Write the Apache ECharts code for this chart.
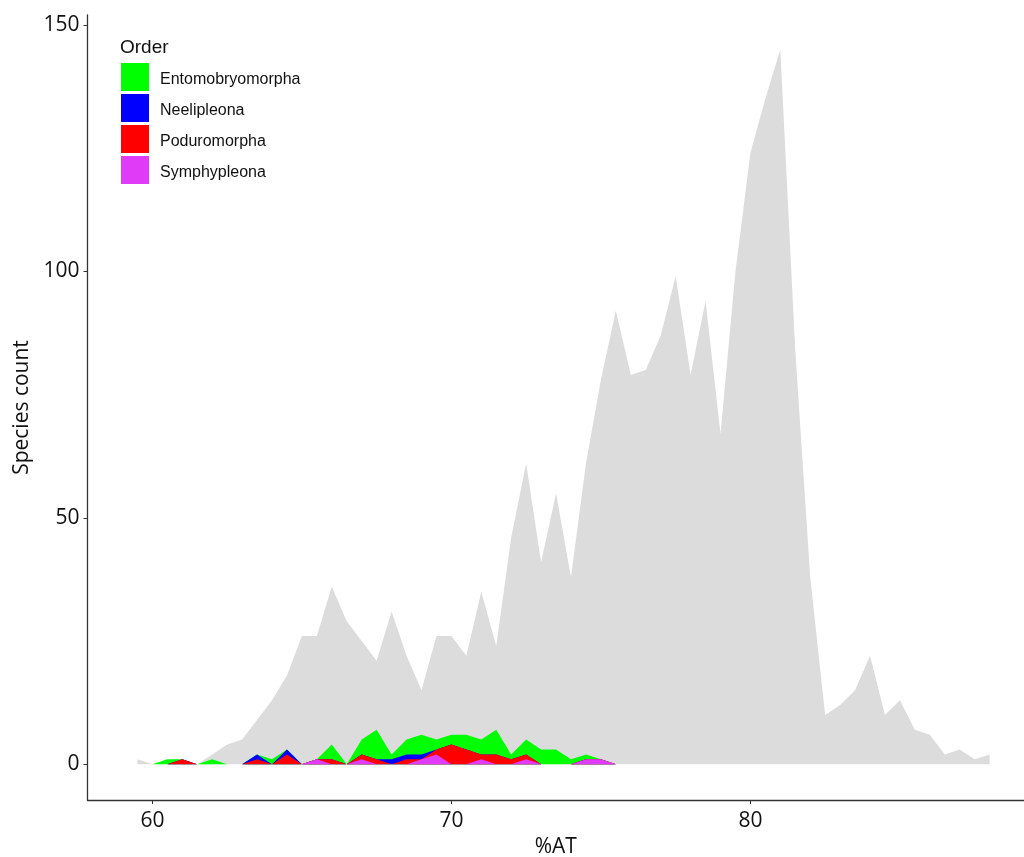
<!DOCTYPE html>
<html>
<head>
<meta charset="utf-8">
<script src="https://cdn.jsdelivr.net/npm/echarts@6/dist/echarts.min.js"></script>
<style>html,body{margin:0;padding:0;background:#fff}#c{width:1024px;height:857px}</style>
</head>
<body>
<div id="c"></div>
<script>
// %AT positions for the total (grey) series
const totalX = [59.5,60,60.5,61,61.5,62,62.5,63,63.5,64,64.5,65,65.5,66,66.5,67,67.5,68,68.5,69,69.5,70,70.5,71,71.5,72,72.5,73,73.5,74,74.5,75,75.5,76,76.5,77,77.5,78,78.5,79,79.5,80,80.5,81,81.5,82,82.5,83,83.5,84,84.5,85,85.5,86,86.5,87,87.5,88];
const totalY = [1,0,0,0,0,2,4,5,9,13,18,26,26,36,29,25,21,31,22,15,26,26,22,35,24,46,61,41,55,38,61,78,92,79,80,87,99,79,94,67,100,124,135,145,84,38,10,12,15,22,10,13,7,6,2,3,1,2];

// %AT positions for the order series
const orderX = [59.5,60,60.5,61,61.5,62,62.5,63,63.5,64,64.5,65,65.5,66,66.5,67,67.5,68,68.5,69,69.5,70,70.5,71,71.5,72,72.5,73,73.5,74,74.5,75,75.5];
const symphypleona     = [0,0,0,0,0,0,0,0,0,0,0,0,1,0,0,1,0,0,0,1,2,0,0,1,0,0,1,0,0,0,1,1,0];
const poduromorpha     = [0,0,0,1,0,0,0,0,1,0,2,0,0,1,0,1,1,0,1,0,1,4,3,1,2,1,1,0,0,0,0,0,0];
const neelipleona      = [0,0,0,0,0,0,0,0,1,0,1,0,0,0,0,0,0,1,1,1,0,0,0,0,0,0,0,0,0,0,0,0,0];
const entomobryomorpha = [0,0,1,0,0,1,0,0,0,1,0,0,0,3,0,3,6,1,3,4,2,2,3,3,5,1,3,3,3,1,1,0,0];

const xTicks = [60,70,80];
const yTicks = [0,50,100,150];
const legendNames = ['Entomobryomorpha','Neelipleona','Poduromorpha','Symphypleona'];

// stacking order, bottom to top
const stackOrder = [
  {name: 'Symphypleona', values: symphypleona, color: '#e03cf7'},
  {name: 'Poduromorpha', values: poduromorpha, color: '#ff0000'},
  {name: 'Neelipleona', values: neelipleona, color: '#0000ff'},
  {name: 'Entomobryomorpha', values: entomobryomorpha, color: '#00ff00'}
];

function pairs(xs, ys){ return xs.map((x,i)=>[x, ys[i]]); }

// cumulative tops; each layer is filled from the baseline, lower layers drawn above
const cum = orderX.map(()=>0);
const stackedSeries = [];
stackOrder.forEach((s, k) => {
  const top = cum.map((c,i)=> c + s.values[i]);
  top.forEach((v,i)=> cum[i] = v);
  stackedSeries.push({
    name: s.name, type: 'line', data: pairs(orderX, top.slice()),
    showSymbol: false, symbol: 'none', lineStyle: {width: 0, opacity: 0},
    areaStyle: {color: s.color, opacity: 1, origin: 0}, itemStyle: {color: s.color},
    emphasis: {disabled: true}, z: 10 - k
  });
});

const chart = echarts.init(document.getElementById('c'), null, {renderer: 'canvas'});
const axisFont = 'Open Sans';
chart.setOption({
  animation: false,
  backgroundColor: '#ffffff',
  title: {
    text: 'Order', left: 120, top: 38, padding: 0,
    textStyle: {fontFamily: 'Liberation Sans', fontSize: 19, fontWeight: 'normal', color: '#111'}
  },
  legend: {
    data: legendNames, orient: 'vertical', left: 121, top: 63, padding: 0,
    icon: 'rect', itemWidth: 28, itemHeight: 28, itemGap: 3,
    formatter: '{t|{name}}',
    textStyle: {
      fontFamily: 'Liberation Sans', fontSize: 16, color: '#111', padding: [0,0,0,6],
      rich: {t: {fontFamily: 'Liberation Sans', fontSize: 16, color: '#111', padding: [6,0,0,0]}}
    },
    selectedMode: false
  },
  grid: {left: 87.5, right: 0, top: 15, bottom: 57, containLabel: false, outerBoundsMode: 'none'},
  xAxis: {
    type: 'value', min: 57.83, max: 89.15,
    name: '%AT', nameLocation: 'middle', nameGap: 36,
    nameTextStyle: {fontFamily: axisFont, fontSize: 21, color: '#111'},
    splitLine: {show: false},
    axisLine: {show: true, onZero: false, lineStyle: {color: '#333', width: 1.3}},
    axisTick: {show: true, length: 4, lineStyle: {color: '#333'}, customValues: xTicks},
    axisLabel: {fontFamily: axisFont, fontSize: 21, color: '#111', margin: 11, customValues: xTicks}
  },
  yAxis: {
    type: 'value', min: -7.25, max: 152,
    name: 'Species count', nameLocation: 'middle', nameGap: 50,
    nameTextStyle: {fontFamily: axisFont, fontSize: 21, color: '#111'},
    splitLine: {show: false},
    axisLine: {show: true, onZero: false, lineStyle: {color: '#333', width: 1.3}},
    axisTick: {show: true, length: 4, lineStyle: {color: '#333'}, customValues: yTicks},
    axisLabel: {fontFamily: axisFont, fontSize: 21, color: '#111', margin: 8, padding: [5,0,0,0], customValues: yTicks}
  },
  series: [
    {
      name: 'Total', type: 'line', data: pairs(totalX, totalY),
      showSymbol: false, symbol: 'none', lineStyle: {width: 0, opacity: 0},
      areaStyle: {color: '#dddcdd', opacity: 1, origin: 0}, itemStyle: {color: '#dddcdd'},
      emphasis: {disabled: true}, z: 2
    }
  ].concat(stackedSeries)
});
</script>
</body>
</html>
